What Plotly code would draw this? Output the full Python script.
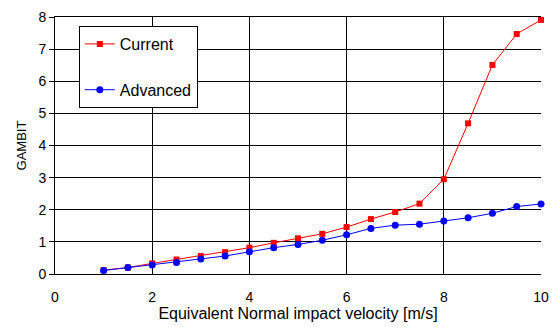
import plotly.graph_objects as go

velocity = [1, 1.5, 2, 2.5, 3, 3.5, 4, 4.5, 5, 5.5, 6, 6.5, 7, 7.5, 8, 8.5, 9, 9.5, 10]
current = [0.12, 0.2, 0.33, 0.45, 0.56, 0.68, 0.82, 0.97, 1.11, 1.25, 1.46, 1.71, 1.93, 2.19, 2.95, 4.69, 6.51, 7.47, 7.91]
advanced = [0.11, 0.2, 0.28, 0.36, 0.47, 0.56, 0.69, 0.82, 0.92, 1.05, 1.22, 1.42, 1.52, 1.55, 1.65, 1.75, 1.89, 2.10, 2.18]

font_family = "Liberation Sans, Arial, sans-serif"

fig = go.Figure()
fig.add_trace(go.Scatter(
    x=velocity, y=current, name="Current", mode="lines+markers",
    line=dict(color="#ff0000", width=1),
    marker=dict(symbol="square", size=6, color="#ff0000"),
    legendgroup="a", cliponaxis=False,
))
fig.add_trace(go.Scatter(
    x=velocity, y=advanced, name="Advanced", mode="lines+markers",
    line=dict(color="#0000ff", width=1),
    marker=dict(symbol="circle", size=7, color="#0000ff"),
    legendgroup="b", cliponaxis=False,
))

# page body has an 8px default margin, so the figure is sized to fit the window
fig.update_layout(
    width=550, height=319,
    margin=dict(l=47, r=17, t=9, b=53, autoexpand=False),
    paper_bgcolor="white", plot_bgcolor="white",
    font=dict(family=font_family, size=14, color="black"),
    showlegend=True,
    legend=dict(
        x=0.049, y=0.965, xanchor="left", yanchor="top",
        bgcolor="white", bordercolor="black", borderwidth=1,
        font=dict(size=16), tracegroupgap=22, itemwidth=30,
    ),
    xaxis=dict(
        range=[0, 10], dtick=2, tick0=0,
        showgrid=True, gridcolor="black", gridwidth=1,
        showline=True, linecolor="black", linewidth=1, mirror=True,
        zeroline=False, ticks="outside", ticklen=10, tickcolor="rgba(0,0,0,0)", automargin=False,
        title=dict(text="Equivalent Normal impact velocity [m/s]", font=dict(size=16), standoff=2),
        tickfont=dict(size=14),
    ),
    yaxis=dict(
        range=[0, 8], dtick=1, tick0=0,
        showgrid=True, gridcolor="black", gridwidth=1,
        showline=True, linecolor="black", linewidth=1,
        zeroline=False, ticks="outside", ticklen=5, tickcolor="black", automargin=False,
        title=dict(text="GAMBIT", font=dict(size=13), standoff=8),
        tickfont=dict(size=14),
    ),
)

fig.write_html("out.html")
